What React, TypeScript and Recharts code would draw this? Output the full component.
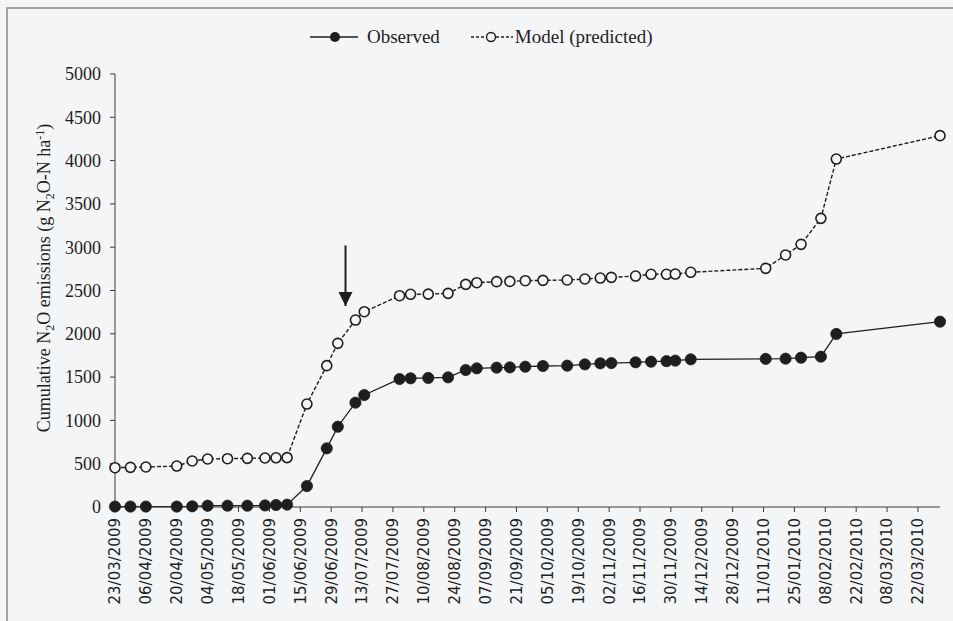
import { LineChart, Line, XAxis, YAxis, Legend, Label, ReferenceLine, ReferenceDot } from 'recharts';

// sampling dates, counted in days after 23/03/2009
const sampleDays = [
  0, 7, 14, 28, 35, 42, 51, 60, 68, 73, 78, 87, 96, 101, 109, 113, 129, 134, 142, 151, 159,
  164, 173, 179, 186, 194, 205, 213, 220, 225, 236, 243, 250, 254, 261, 295, 304, 311, 320, 327, 374,
];

// cumulative N2O-N (g/ha)
const observed = [
  5, 5, 5, 5, 8, 15, 15, 15, 18, 23, 27, 242, 677, 927, 1205, 1293, 1478, 1486, 1490, 1497, 1582,
  1601, 1609, 1612, 1620, 1628, 1632, 1647, 1659, 1662, 1671, 1678, 1684, 1690, 1705, 1710, 1713, 1724, 1736, 1998, 2140,
];

const predicted = [
  454, 458, 462, 473, 531, 554, 558, 562, 566, 568, 570, 1189, 1632, 1890, 2159, 2255, 2440, 2456, 2458, 2467, 2571,
  2590, 2602, 2605, 2613, 2617, 2621, 2633, 2644, 2652, 2667, 2687, 2687, 2690, 2710, 2756, 2910, 3033, 3333, 4018, 4288,
];

// fortnightly axis labels
const dateLabels = [
  '23/03/2009', '06/04/2009', '20/04/2009', '04/05/2009', '18/05/2009', '01/06/2009', '15/06/2009',
  '29/06/2009', '13/07/2009', '27/07/2009', '10/08/2009', '24/08/2009', '07/09/2009', '21/09/2009',
  '05/10/2009', '19/10/2009', '02/11/2009', '16/11/2009', '30/11/2009', '14/12/2009', '28/12/2009',
  '11/01/2010', '25/01/2010', '08/02/2010', '22/02/2010', '08/03/2010', '22/03/2010',
];

const yTicks = [0, 500, 1000, 1500, 2000, 2500, 3000, 3500, 4000, 4500, 5000];

// arrow marking the event in early July
const arrowDay = 104.5;
const arrowTop = 3020;
const arrowTip = 2321;

const data = sampleDays.map((day, i) => ({ day, observed: observed[i], predicted: predicted[i] }));
const xTicks = dateLabels.map((_, i) => i * 14);

const BG = '#f4f5f6';
const INK = '#1e1e1e';
const SERIF = '"Liberation Serif", "Times New Roman", serif';

const DateTick = ({ x, y, payload }: any) => {
  const idx = xTicks.indexOf(payload.value);
  return (
    <text
      x={x}
      y={y}
      transform={`rotate(-90 ${x} ${y})`}
      textAnchor="end"
      dy="0.36em"
      fontFamily='"DejaVu Sans", sans-serif'
      fontSize={15}
      fill={INK}
    >
      {dateLabels[idx]}
    </text>
  );
};

const YTitle = () => {
  const cx = 44;
  const cy = 278;
  return (
    <text
      x={cx}
      y={cy}
      transform={`rotate(-90 ${cx} ${cy})`}
      textAnchor="middle"
      dy="0.35em"
      fontFamily={SERIF}
      fontSize={18}
      fill={INK}
    >
      Cumulative N<tspan fontSize={12} dy={4}>2</tspan>
      <tspan dy={-4}>O emissions (g N</tspan>
      <tspan fontSize={12} dy={4}>2</tspan>
      <tspan dy={-4}>O-N ha</tspan>
      <tspan fontSize={12} dy={-6}>-1</tspan>
      <tspan dy={6}>)</tspan>
    </text>
  );
};

const LegendContent = () => (
  <div style={{ display: 'flex', alignItems: 'center', height: 30, fontFamily: SERIF, fontSize: 19, color: INK }}>
    <svg width={48} height={14}>
      <line x1={0} y1={7} x2={48} y2={7} stroke={INK} strokeWidth={1.5} />
      <circle cx={25} cy={7} r={5} fill={INK} />
    </svg>
    <span style={{ marginLeft: 9 }}>Observed</span>
    <svg width={42} height={14} style={{ marginLeft: 31 }}>
      <line x1={0} y1={7} x2={42} y2={7} stroke={INK} strokeWidth={1.4} strokeDasharray="3 2" />
      <circle cx={20} cy={7} r={4.5} fill={BG} stroke={INK} strokeWidth={1.4} />
    </svg>
    <span style={{ marginLeft: 2 }}>Model (predicted)</span>
  </div>
);

const ArrowHead = ({ cx, cy }: any) => (
  <path d={`M ${cx} ${cy} L ${cx - 7} ${cy - 14} L ${cx + 7} ${cy - 14} Z`} fill={INK} />
);

export default function App() {
  return (
    <div style={{ position: 'absolute', left: 0, top: 0, width: 953, height: 621, background: BG, overflow: 'hidden' }}>
      <div
        style={{
          position: 'absolute',
          left: 6,
          top: 7,
          right: 0,
          bottom: 0,
          borderTop: '2px solid #a3a3a3',
          borderLeft: '2px solid #a3a3a3',
        }}
      />
      <LineChart width={953} height={621} data={data} margin={{ top: 44, right: 13, bottom: 0, left: 0 }}>
        <Legend
          verticalAlign="top"
          content={<LegendContent />}
          wrapperStyle={{ top: 22, left: 310, width: 420, height: 30 }}
        />
        <XAxis
          dataKey="day"
          type="number"
          domain={[0, 374]}
          ticks={xTicks}
          interval={0}
          height={114}
          tickSize={5}
          tickMargin={6}
          tick={<DateTick />}
          stroke="#3a3a3a"
        />
        <YAxis
          type="number"
          domain={[0, 5000]}
          ticks={yTicks}
          interval={0}
          width={115}
          tickSize={5}
          tickMargin={9}
          tick={{ fontFamily: SERIF, fontSize: 18, fill: INK }}
          stroke="#3a3a3a"
        >
          <Label content={<YTitle />} />
        </YAxis>
        <ReferenceLine
          segment={[
            { x: arrowDay, y: arrowTop },
            { x: arrowDay, y: arrowTip },
          ]}
          stroke={INK}
          strokeWidth={2}
        />
        <ReferenceDot x={arrowDay} y={arrowTip} shape={<ArrowHead />} />
        <Line
          type="linear"
          dataKey="predicted"
          stroke={INK}
          strokeWidth={1.4}
          strokeDasharray="4 2"
          dot={{ r: 5, fill: BG, stroke: INK, strokeWidth: 1.6, strokeDasharray: '' }}
          isAnimationActive={false}
        />
        <Line
          type="linear"
          dataKey="observed"
          stroke={INK}
          strokeWidth={1.3}
          dot={{ r: 5.6, fill: INK, stroke: INK, strokeWidth: 0.8 }}
          isAnimationActive={false}
        />
      </LineChart>
    </div>
  );
}
